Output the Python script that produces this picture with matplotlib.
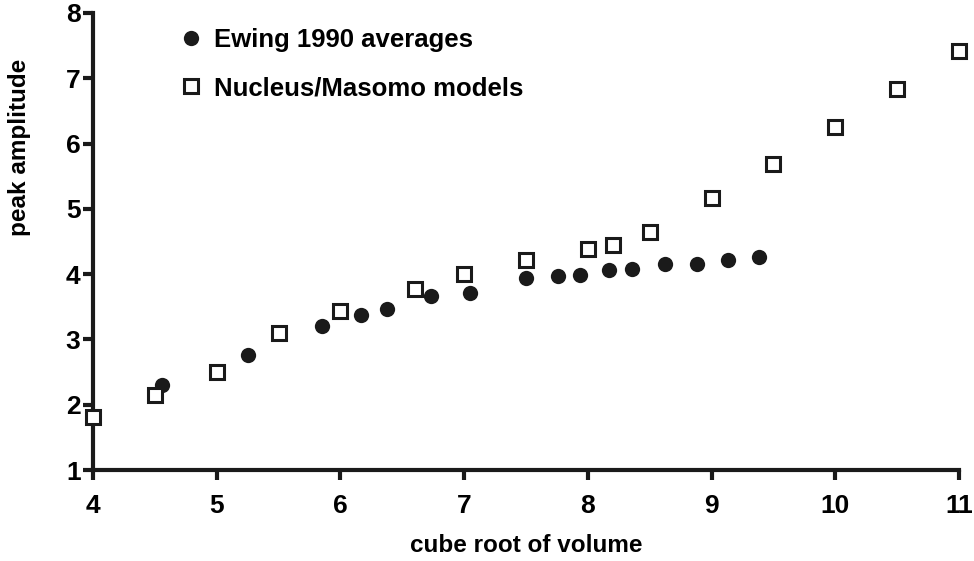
import matplotlib
matplotlib.use("Agg")
import matplotlib.pyplot as plt

# Ewing 1990 averages (filled circles)
ewing_x = [4.56, 5.25, 5.85, 6.17, 6.38, 6.73, 7.05, 7.50, 7.76, 7.94,
           8.17, 8.36, 8.62, 8.88, 9.13, 9.38]
ewing_y = [2.31, 2.77, 3.20, 3.38, 3.46, 3.67, 3.71, 3.94, 3.97, 3.98,
           4.07, 4.08, 4.16, 4.15, 4.22, 4.26]

# Nucleus/Masomo models (open squares)
model_x = [4.0, 4.5, 5.0, 5.5, 6.0, 6.6, 7.0, 7.5, 8.0, 8.2, 8.5,
           9.0, 9.5, 10.0, 10.5, 11.0]
model_y = [1.81, 2.15, 2.50, 3.10, 3.44, 3.78, 4.00, 4.22, 4.39, 4.45, 4.65,
           5.16, 5.69, 6.25, 6.84, 7.42]

x_ticks = [4, 5, 6, 7, 8, 9, 10, 11]
y_ticks = [1, 2, 3, 4, 5, 6, 7, 8]

plt.rcParams['font.family'] = ['Liberation Sans', 'DejaVu Sans']
plt.rcParams['font.weight'] = 'bold'

fig = plt.figure(figsize=(9.74, 5.61), dpi=100)
ax = fig.add_axes([0.0955, 0.162, 0.889, 0.815])

ax.plot(ewing_x, ewing_y, 'o', color='#1a1a1a', ms=11, mew=0,
        label='Ewing 1990 averages', clip_on=False, zorder=3)
ax.plot(model_x, model_y, 's', mfc='white', mec='#1a1a1a', ms=10, mew=2.2,
        label='Nucleus/Masomo models', clip_on=False, zorder=4)

ax.set_xlim(4, 11)
ax.set_ylim(1, 8)
ax.set_xticks(x_ticks)
ax.set_yticks(y_ticks)

for spine in ('top', 'right'):
    ax.spines[spine].set_visible(False)
for spine in ('left', 'bottom'):
    ax.spines[spine].set_linewidth(3)
    ax.spines[spine].set_color('#1a1a1a')

ax.tick_params(axis='x', direction='out', length=7, width=3, pad=10,
               labelsize=19, color='#1a1a1a')
ax.tick_params(axis='y', direction='out', length=7, width=3, pad=2,
               labelsize=19, color='#1a1a1a')

ax.set_xlabel('cube root of volume', fontsize=17.5, fontweight='bold')
ax.set_ylabel('peak amplitude', fontsize=17.5, fontweight='bold')
ax.xaxis.set_label_coords(0.5, -0.14)
ax.yaxis.set_label_coords(-0.072, 0.705)

leg = ax.legend(loc='upper left', bbox_to_anchor=(0.083, 0.99), frameon=False,
                fontsize=18.5, handletextpad=0.3, labelspacing=0.95,
                handlelength=1.2, borderaxespad=0)

fig.savefig('out.png', dpi=100)
